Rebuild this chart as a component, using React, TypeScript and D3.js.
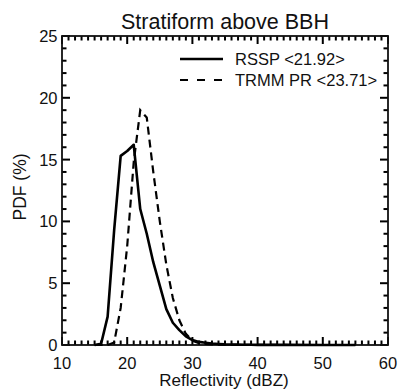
import React from "react";
import * as d3 from "d3";

const dbz = [15, 16, 17, 18, 19, 20, 21, 22, 23, 24, 25, 26, 27, 28, 29, 30, 31, 32, 33, 34, 35, 36, 37, 38, 39, 40, 45, 50, 55];
const rssp = [0, 0.1, 2.3, 9.3, 15.3, 15.7, 16.2, 11.0, 9.0, 6.7, 4.8, 2.9, 1.8, 1.2, 0.7, 0.4, 0.25, 0.18, 0.12, 0.08, 0.05, 0.04, 0.03, 0.02, 0.02, 0.01, 0.01, 0, 0];
const trmm = [0, 0, 0, 0.2, 3.0, 8.0, 14.8, 19.0, 18.4, 14.0, 10.0, 6.5, 3.8, 2.0, 0.9, 0.35, 0.15, 0.08, 0.05, 0.03, 0.02, 0.01, 0.01, 0.01, 0.01, 0.01, 0, 0, 0];
const xTicks = [10, 20, 30, 40, 50, 60];
const yTicks = [0, 5, 10, 15, 20, 25];
const seriesNames = ["RSSP <21.92>", "TRMM PR <23.71>"];
const title = "Stratiform above BBH";
const xLabel = "Reflectivity (dBZ)";
const yLabel = "PDF (%)";

const W = 398, H = 390;
const L = 62, R = 388, T = 36, B = 345;
const FONT = "'Liberation Sans', Arial, Helvetica, sans-serif";

export default function App() {
  const x = d3.scaleLinear().domain([10, 60]).range([L, R]);
  const y = d3.scaleLinear().domain([0, 25]).range([B, T]);
  const line = d3.line<number>().x((_, i) => x(dbz[i])).y((d) => y(d));
  const minorX = d3.range(10, 61, 1);
  const minorY = d3.range(0, 26, 1);
  const tw = 2;

  return (
    <svg width={W} height={H} style={{ position: "absolute", left: 0, top: 0, background: "#fff", display: "block" }} fontFamily={FONT}>
      <rect x={0} y={0} width={W} height={H} fill="#fff" />
      <text x={225} y={29} fontSize={21.5} textAnchor="middle" fill="#111">{title}</text>
      {minorX.map((v) => (
        <line key={"bx" + v} x1={x(v)} x2={x(v)} y1={B} y2={B - (v % 10 === 0 ? 8 : 4.5)} stroke="#000" strokeWidth={tw} />
      ))}
      {minorX.map((v) => (
        <line key={"tx" + v} x1={x(v)} x2={x(v)} y1={T} y2={T + (v % 10 === 0 ? 8 : 4.5)} stroke="#000" strokeWidth={tw} />
      ))}
      {minorY.map((v) => (
        <line key={"ly" + v} x1={L} x2={L + (v % 5 === 0 ? 8 : 4.5)} y1={y(v)} y2={y(v)} stroke="#000" strokeWidth={tw} />
      ))}
      {minorY.map((v) => (
        <line key={"ry" + v} x1={R} x2={R - (v % 5 === 0 ? 8 : 4.5)} y1={y(v)} y2={y(v)} stroke="#000" strokeWidth={tw} />
      ))}
      <rect x={L} y={T} width={R - L} height={B - T} fill="none" stroke="#111" strokeWidth={1.8} />
      {xTicks.map((v) => (
        <text key={"xt" + v} x={x(v)} y={369} fontSize={16.5} textAnchor="middle" fill="#111">{v}</text>
      ))}
      {yTicks.map((v) => (
        <text key={"yt" + v} x={57.5} y={y(v) + 6} fontSize={16.5} textAnchor="end" fill="#111">{v}</text>
      ))}
      <text x={224} y={386} fontSize={17} textAnchor="middle" fill="#111">{xLabel}</text>
      <text transform="translate(26,187) rotate(-90)" fontSize={17.5} textAnchor="middle" fill="#111">{yLabel}</text>
      <path d={line(rssp) || ""} fill="none" stroke="#000" strokeWidth={2.6} strokeLinejoin="round" />
      <path d={line(trmm) || ""} fill="none" stroke="#000" strokeWidth={2.2} strokeDasharray="8,5" />
      <line x1={180} x2={223} y1={59} y2={59} stroke="#000" strokeWidth={2.6} />
      <text x={235} y={65} fontSize={16.5} fill="#111">{seriesNames[0]}</text>
      <line x1={180} x2={223} y1={80} y2={80} stroke="#000" strokeWidth={2.2} strokeDasharray="8,9" />
      <text x={235} y={86} fontSize={16.5} fill="#111">{seriesNames[1]}</text>
    </svg>
  );
}
